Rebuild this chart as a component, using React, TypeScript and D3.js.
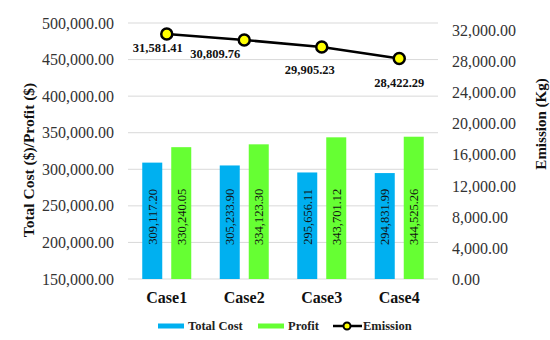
import { scaleBand, scaleLinear, line, format } from "d3";

const cases = ["Case1", "Case2", "Case3", "Case4"];
const totalCost = [309117.2, 305233.9, 295656.11, 294831.99];
const profit = [330240.05, 334123.3, 343701.12, 344525.26];
const emission = [31581.41, 30809.76, 29905.23, 28422.29];
const leftTicks = [150000, 200000, 250000, 300000, 350000, 400000, 450000, 500000];
const rightTicks = [0, 4000, 8000, 12000, 16000, 20000, 24000, 28000, 32000];

// label nudges for the emission values (Excel had them hand-placed)
const emLabelDx = [-9, -29, -12, 0];
const emLabelDy = [14, 14, 23, 24];

const W = 550;
const H = 340;
const m = { left: 128, right: 112, top: 23, bottom: 61 };
const FONT = '"Liberation Serif", "DejaVu Serif", serif';
const BLUE = "#00b0f0";
const GREEN = "#66ff33";

const fmt = format(",.2f");

export default function App() {
  const x = scaleBand().domain(cases).range([m.left, W - m.right]);
  const y = scaleLinear().domain([150000, 500000]).range([H - m.bottom, m.top]);
  const y2 = scaleLinear().domain([0, 33000]).range([H - m.bottom, m.top]);
  const barW = 20;
  const gap = 9;
  const cx = (c: string) => (x(c) as number) + x.bandwidth() / 2;

  const path = line<number>()
    .x((_, i) => cx(cases[i]))
    .y((d) => y2(d))(emission);

  const labelY = y(235000);

  return (
    <div style={{ position: "absolute", left: 0, top: 0, fontFamily: FONT }}>
      <svg width={W} height={H} style={{ display: "block", background: "#fff", fontFamily: FONT }}>
        {leftTicks.map((t) => (
          <g key={t}>
            <line x1={m.left} x2={W - m.right} y1={y(t)} y2={y(t)} stroke="#d9d9d9" strokeWidth={1} />
            <text x={m.left - 14} y={y(t)} dy="0.35em" textAnchor="end" fontSize={16} fill="#333">
              {fmt(t)}
            </text>
          </g>
        ))}
        {rightTicks.map((t) => (
          <text key={t} x={W - m.right + 14} y={y2(t)} dy="0.35em" textAnchor="start" fontSize={16} fill="#333">
            {fmt(t)}
          </text>
        ))}

        {cases.map((c, i) => {
          const bx = cx(c) - gap / 2 - barW;
          const gx = cx(c) + gap / 2;
          return (
            <g key={c}>
              <rect x={bx} y={y(totalCost[i])} width={barW} height={y(150000) - y(totalCost[i])} fill={BLUE} />
              <rect x={gx} y={y(profit[i])} width={barW} height={y(150000) - y(profit[i])} fill={GREEN} />
              <text
                transform={`translate(${bx + barW / 2},${labelY}) rotate(-90)`}
                dy="0.35em"
                textAnchor="middle"
                fontSize={12.5}
                fill="#111"
              >
                {fmt(totalCost[i])}
              </text>
              <text
                transform={`translate(${gx + barW / 2},${labelY}) rotate(-90)`}
                dy="0.35em"
                textAnchor="middle"
                fontSize={12.5}
                fill="#111"
              >
                {fmt(profit[i])}
              </text>
              <text x={cx(c)} y={y(150000) + 24} textAnchor="middle" fontSize={16} fontWeight="bold" fill="#111">
                {c}
              </text>
            </g>
          );
        })}

        <path d={path ?? ""} fill="none" stroke="#000" strokeWidth={2.5} />
        {emission.map((v, i) => (
          <g key={i}>
            <circle cx={cx(cases[i])} cy={y2(v)} r={5.5} fill="#ffff00" stroke="#000" strokeWidth={2.5} />
            <text
              x={cx(cases[i]) + emLabelDx[i]}
              y={y2(v) + emLabelDy[i]}
              dy="0.35em"
              textAnchor="middle"
              fontSize={12.5}
              fontWeight="bold"
              fill="#111"
            >
              {fmt(v)}
            </text>
          </g>
        ))}

        <text
          transform="translate(29,160) rotate(-90)"
          dy="0.35em"
          textAnchor="middle"
          fontSize={15.5}
          fontWeight="bold"
          fill="#111"
        >
          Total Cost ($)/Profit ($)
        </text>
        <text
          transform="translate(541,124) rotate(-90)"
          dy="0.35em"
          textAnchor="middle"
          fontSize={15}
          fontWeight="bold"
          fill="#111"
        >
          Emission (Kg)
        </text>

        <g fontSize={12.5} fontWeight="bold" fill="#222">
          <rect x={158} y={323.5} width={26} height={5} fill={BLUE} />
          <text x={188} y={326} dy="0.35em">Total Cost</text>
          <rect x={258} y={323.5} width={26} height={5} fill={GREEN} />
          <text x={288} y={326} dy="0.35em">Profit</text>
          <line x1={333} x2={362} y1={326} y2={326} stroke="#000" strokeWidth={2.5} />
          <circle cx={347} cy={326} r={3.5} fill="#ffff00" stroke="#000" strokeWidth={2} />
          <text x={363} y={326} dy="0.35em">Emission</text>
        </g>
      </svg>
    </div>
  );
}
